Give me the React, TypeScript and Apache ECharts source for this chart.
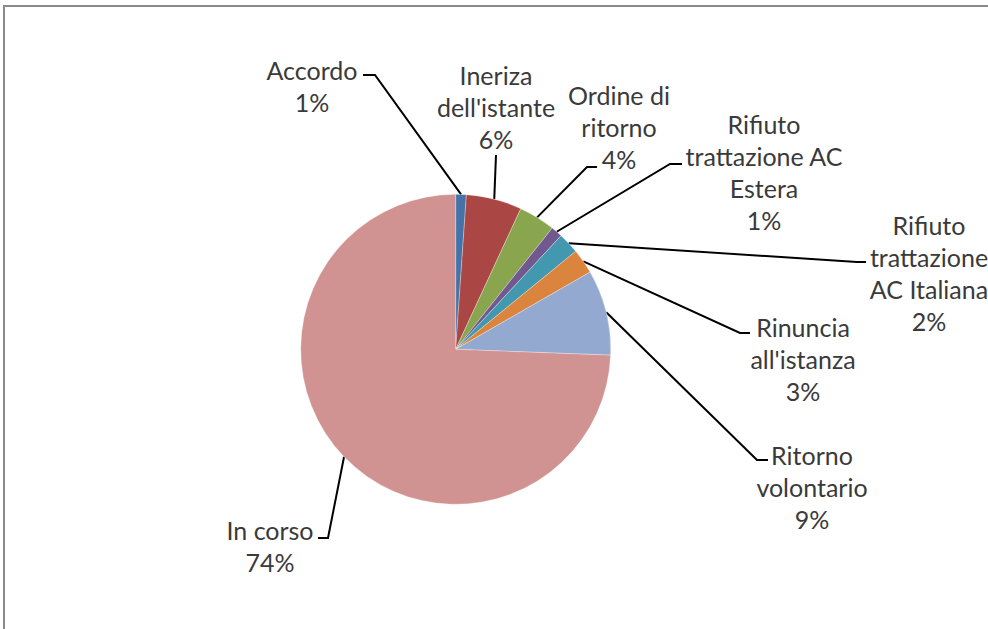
import React, { useEffect, useRef } from "react";
import * as echarts from "echarts";

const categories = [
  "Accordo",
  "Ineriza\ndell'istante",
  "Ordine di\nritorno",
  "Rifiuto\ntrattazione AC\nEstera",
  "Rifiuto\ntrattazione\nAC Italiana",
  "Rinuncia\nall'istanza",
  "Ritorno\nvolontario",
  "In corso",
];
const values = [1.1, 5.8, 3.8, 1.2, 2.2, 2.6, 8.9, 74.4];
const colors = ["#4572A7", "#AA4643", "#89A54E", "#71588F", "#4198AF", "#DB843D", "#93A9CF", "#D19392"];

// label placement: anchor (center/middle), leader-line elbow and end
const labelPos = [
  { x: 312, y: 86, elbow: [375, 75], end: [363, 75] },
  { x: 496, y: 107, elbow: [496, 155], end: [496, 155] },
  { x: 619, y: 127, elbow: [587, 167], end: [597, 167] },
  { x: 764, y: 172, elbow: [670, 164], end: [682, 164] },
  { x: 929, y: 273, elbow: [857, 262], end: [866, 262] },
  { x: 803, y: 359, elbow: [740, 333], end: [750, 333] },
  { x: 812, y: 487, elbow: [757, 460], end: [768, 460] },
  { x: 270, y: 546, elbow: [328, 538], end: [318, 538] },
];

export default function App() {
  const ref = useRef<HTMLDivElement>(null);
  useEffect(() => {
    document.body.style.margin = "0";
    const chart = echarts.init(ref.current!, null, { renderer: "svg" });
    chart.setOption({
      animation: false,
      backgroundColor: "#ffffff",
      graphic: [
        { type: "line", shape: { x1: 3, y1: 6, x2: 988, y2: 6 }, style: { stroke: "#8a8a8a", lineWidth: 2 } },
        { type: "line", shape: { x1: 4, y1: 5, x2: 4, y2: 629 }, style: { stroke: "#8a8a8a", lineWidth: 2 } },
      ],
      series: [
        {
          type: "pie",
          center: [455.7, 349.3],
          radius: 155,
          startAngle: 90,
          clockwise: true,
          avoidLabelOverlap: false,
          data: categories.map((name, i) => ({
            name,
            value: values[i],
            itemStyle: { color: colors[i] },
          })),
          itemStyle: { borderColor: "rgba(255,255,255,0.6)", borderWidth: 0.5 },
          label: {
            show: true,
            position: "outside",
            formatter: (p: any) => `${p.name}\n${Math.round(p.percent)}%`,
            fontFamily: "Lato",
            fontSize: 25,
            lineHeight: 32,
            color: "#3a3a3a",
            align: "center",
          },
          labelLine: {
            show: true,
            length: 20,
            length2: 10,
            lineStyle: { color: "#000000", width: 2 },
          },
          emphasis: { disabled: true },
          labelLayout: (params: any) => {
            const lp = labelPos[params.dataIndex];
            const p0 = params.labelLinePoints ? params.labelLinePoints[0] : lp.elbow;
            return {
              x: lp.x,
              y: lp.y,
              align: "center",
              verticalAlign: "middle",
              labelLinePoints: [p0, lp.elbow, lp.end],
            };
          },
        },
      ],
    });
    return () => chart.dispose();
  }, []);
  return <div ref={ref} style={{ width: 988, height: 629 }} />;
}
